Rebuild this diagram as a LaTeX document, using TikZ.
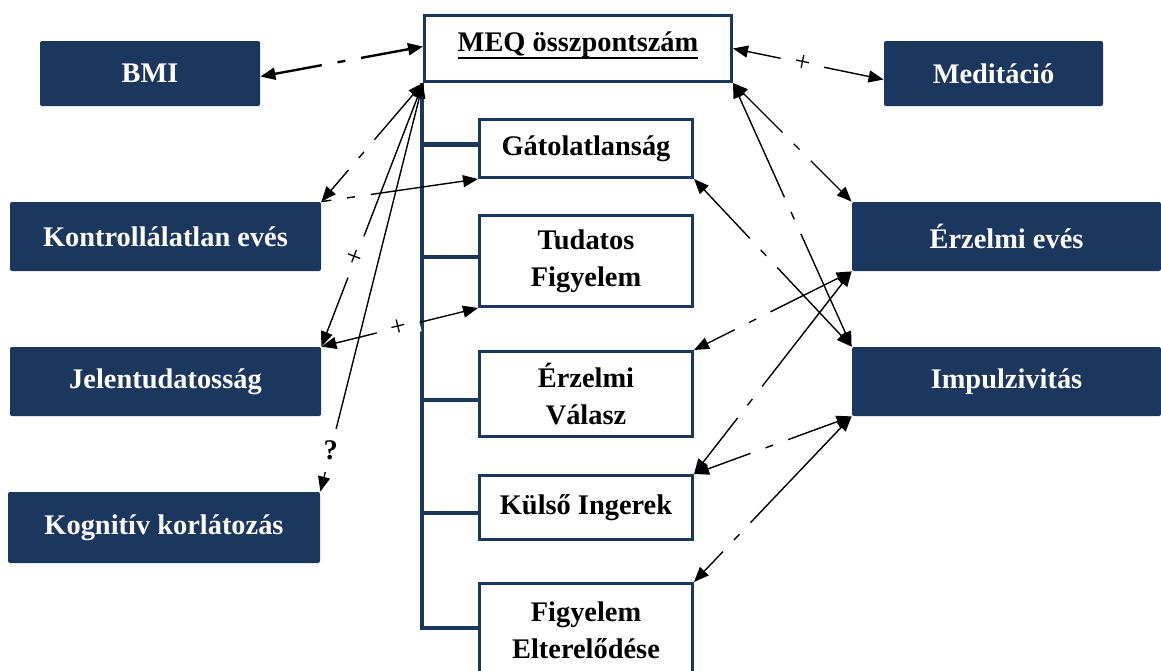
\documentclass[tikz,border=0pt]{standalone}
\usepackage{fontspec}
\setmainfont{Liberation Serif}
\usepackage{tikz}
\definecolor{meqnavy}{HTML}{1B375E}
\usetikzlibrary{arrows.meta}
\newcommand{\boxfont}{\fontsize{14.2}{18.5}\selectfont\bfseries}
\newcommand{\thickul}[1]{\setbox0=\hbox{#1}\rlap{\rule[-3.6pt]{\wd0}{1.1pt}}\box0}
\tikzset{
	navybox/.style={fill=meqnavy, text=white, rounded corners=1pt, inner sep=0pt,
		align=center, font=\boxfont},
	subbox/.style={draw=meqnavy, line width=1.5pt, fill=white, inner sep=0pt,
		align=center, font=\boxfont, minimum width=106.5pt},
	spine/.style={draw=meqnavy, line width=2.2pt},
	conn/.style={<->, line width=0.7pt},
	dd/.style={dash pattern=on #1 off 8pt on 4pt off 8pt on 400pt off 1pt},
	plus/.style={fill=white, sloped, inner xsep=7pt, inner ysep=0.5pt,
		font=\fontsize{14.2}{16}\selectfont},
	quest/.style={fill=white, inner xsep=1pt, inner ysep=6pt, font=\boxfont},
	>={Triangle[length=7.5pt, width=6pt]}
}

\begin{document}
\begin{tikzpicture}[x=0.5pt, y=-0.5pt]
	\useasboundingbox (0,0) rectangle (1161,670);
	\clip (0,0) rectangle (1161,670);

	\node[draw=meqnavy, line width=1.5pt, fill=white, inner sep=0pt, font=\boxfont,
		minimum width=153.5pt, text height=18pt, text depth=15pt] (meq) at (578,48.5)
		{\thickul{MEQ összpontszám}};

	\node[subbox, minimum height=29pt] (gatol) at (586,148.5) {Gátolatlanság};
	\node[subbox, minimum height=45.5pt] (tudatos) at (586,261) {Tudatos\\Figyelem};
	\node[subbox, minimum height=42.5pt] (erzval) at (586,394) {Érzelmi\\Válasz};
	\node[subbox, minimum height=32pt] (kulso) at (586,507.5) {Külső Ingerek};
	\node[subbox, minimum height=46.5pt] (figyel) at (586,630) {Figyelem\\Elterelődése};

	\node[navybox, minimum width=110pt, minimum height=32.5pt] (bmi) at (150,73.5) {BMI};
	\node[navybox, minimum width=155.5pt, minimum height=34.5pt] (kontroll) at (165.5,236.5) {Kontrollálatlan evés};
	\node[navybox, minimum width=155.5pt, minimum height=34.5pt] (jelen) at (165.5,381.5) {Jelentudatosság};
	\node[navybox, minimum width=156pt, minimum height=35.5pt] (kogn) at (164,527.5) {Kognitív korlátozás};
	\node[navybox, minimum width=109.5pt, minimum height=32.5pt] (medit) at (993.5,73.5) {Meditáció};
	\node[navybox, minimum width=154.5pt, minimum height=34.5pt] (erzeves) at (1006.5,236.5) {Érzelmi evés};
	\node[navybox, minimum width=154.5pt, minimum height=34.5pt] (impulz) at (1006.5,381.5) {Impulzivitás};

	\coordinate (spinetop) at ([xshift=-0.5pt]meq.south west);
	\draw[spine] (spinetop) |- ([yshift=2pt]gatol.west);
	\draw[spine] (spinetop) |- ([yshift=2pt]tudatos.west);
	\draw[spine] (spinetop) |- ([yshift=-3pt]erzval.west);
	\draw[spine] (spinetop) |- ([yshift=-2.75pt]kulso.west);
	\draw[spine] (spinetop) |- ([yshift=1pt]figyel.west);

	\draw[conn, line width=1.2pt, dd=24pt] ([yshift=-1.5pt]bmi.east) -- ([yshift=1pt]meq.west);
	\draw[conn, dd=30pt] (meq.south west) -- (kontroll.north east);
	\draw[conn] (meq.south west) -- node[plus, pos=0.66] {+} (jelen.north east);
	\draw[conn] (meq.south west) -- node[quest, pos=0.9] {?} (kogn.north east);
	\draw[->, line width=0.7pt, dd=5pt] (kontroll.north east) -- (gatol.south west);
	\draw[conn] (jelen.north east) -- node[plus, pos=0.49] {+} (tudatos.south west);

	\draw[conn] (meq.east) -- node[plus, pos=0.46] {+} ([yshift=-3pt]medit.west);
	\draw[conn, dd=21.5pt] (erzeves.north west) -- (meq.south east);
	\draw[conn, dd=54.5pt] (impulz.north west) -- (meq.south east);
	\draw[conn, dd=47pt] (impulz.north west) -- (gatol.south east);
	\draw[conn, dd=38pt] (erzeves.south west) -- (erzval.north east);
	\draw[conn, dd=65.5pt] (erzeves.south west) -- (kulso.north east);
	\draw[conn, dd=26.5pt] (impulz.south west) -- (kulso.north east);
	\draw[conn, dd=66pt] (impulz.south west) -- (figyel.north east);
\end{tikzpicture}
\end{document}
